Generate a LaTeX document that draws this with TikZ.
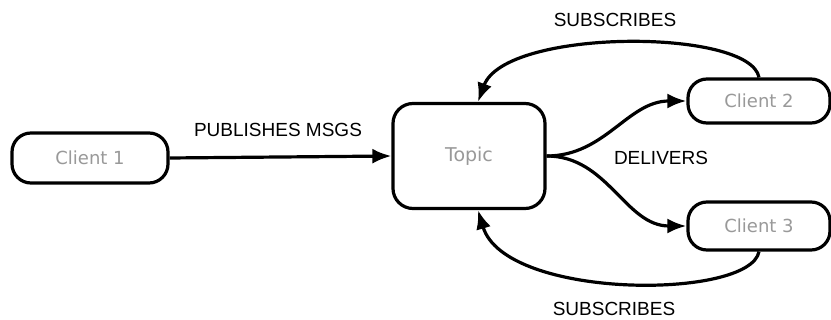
\documentclass[tikz,border=0pt]{standalone}
\usepackage{fontspec}
\setmainfont{Liberation Sans}
\newfontfamily\boxfont{DejaVu Sans}
\usetikzlibrary{arrows.meta}
\begin{document}
\begin{tikzpicture}[x=1pt,y=-1pt,
  client/.style={draw,line width=3.2pt,rounded corners=19pt,fill=white,
    font=\boxfont\fontsize{18}{20}\selectfont,text=black!40},
  topicbox/.style={draw,line width=3.2pt,rounded corners=20pt,fill=white,
    minimum width=152pt,minimum height=105pt,
    font=\boxfont\fontsize{19}{21}\selectfont,text=black!40},
  flow/.style={line width=3.2pt,-{Latex[length=19pt,width=15pt]}},
  lbl/.style={font=\fontsize{19}{21}\selectfont,text=black}]
\useasboundingbox (0,0) rectangle (831,320);

% nodes
\node[client,minimum width=156pt,minimum height=50pt] (c1) at (90,158) {Client 1};
\node[topicbox] (topic) at (469,156) {Topic};
\node[client,minimum width=142pt,minimum height=44pt] (c2) at (759,101) {Client 2};
\node[client,minimum width=142pt,minimum height=48pt] (c3) at (759,226) {Client 3};

% publishing
\draw[flow] (c1.east) -- (topic.west);
\node[lbl] (pub) at (278,130) {PUBLISHES MSGS};

% delivery to subscribers
\draw[flow] (topic.east) to[out=0,in=180] (c2.west);
\draw[flow] (topic.east) to[out=0,in=180] (c3.west);
\node[lbl] (del) at (661,158) {DELIVERS};

% subscriptions
\draw[flow] (c2.north) .. controls (750,28) and (505,28) .. ([xshift=9pt]topic.north);
\draw[flow] (c3.south) .. controls (750,300) and (505,300) .. ([xshift=9pt]topic.south);
\node[lbl] (subtop) at (615,20) {SUBSCRIBES};
\node[lbl] (subbot) at (614,309) {SUBSCRIBES};
\end{tikzpicture}
\end{document}
